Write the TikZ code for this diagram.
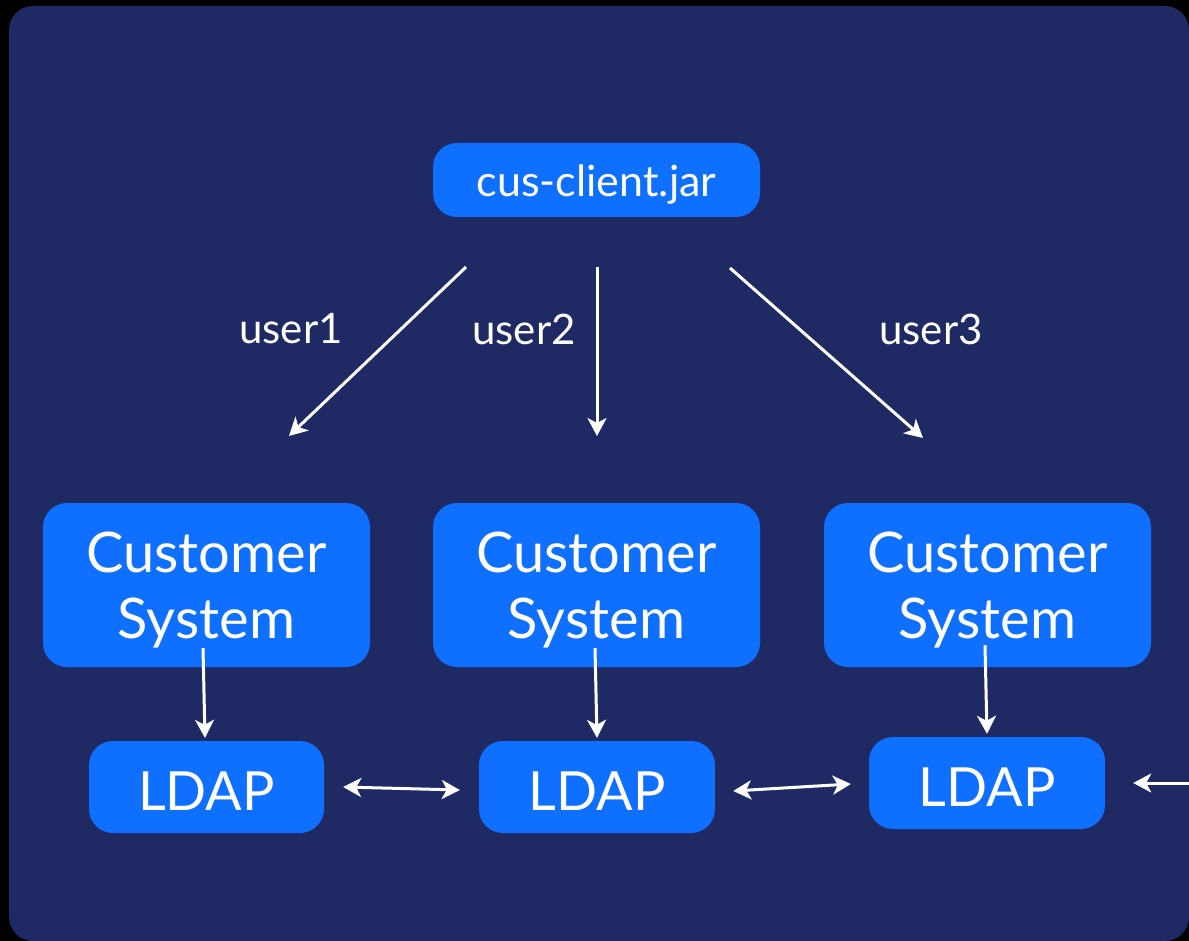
\documentclass[tikz,border=0pt]{standalone}
\usepackage{fontspec}
\setmainfont{Lato}
\usetikzlibrary{arrows.meta}
\definecolor{navy}{HTML}{1F2A64}
\definecolor{boxblue}{HTML}{0F6FFF}
\tikzset{
  box/.style={fill=boxblue, rounded corners=24pt, text=white, align=center, inner sep=0pt},
  cstxt/.style={font=\fontsize{56}{66}\selectfont, text height=106pt, text depth=0pt},
  ldtxt/.style={font=\fontsize{54}{66}\selectfont, text height=46pt, text depth=0pt},
  jartxt/.style={font=\fontsize{43}{50}\selectfont, text height=34pt, text depth=0pt},
  lbl/.style={text=white, font=\fontsize{42}{50}\selectfont},
  arr/.style={draw=white, line width=3pt, -{Stealth[length=18pt,width=19pt,inset=5pt]}},
  darr/.style={draw=white, line width=3pt, {Stealth[length=18pt,width=19pt,inset=5pt]}-{Stealth[length=18pt,width=19pt,inset=5pt]}}
}
\begin{document}
\begin{tikzpicture}[x=1pt,y=-1pt]
\useasboundingbox (0,0) rectangle (1189,941);
\fill[black] (0,0) rectangle (1189,941);
\fill[navy, rounded corners=24pt] (9,6) rectangle (1189,941);

\node[box, jartxt, minimum width=327pt, minimum height=74pt] (jar) at (596.5,180) {cus-client.jar};

\node[box, cstxt, minimum width=327pt, minimum height=164pt] (cs1) at (206.5,585) {Customer\\System};
\node[box, cstxt, minimum width=327pt, minimum height=164pt] (cs2) at (596.5,585) {Customer\\System};
\node[box, cstxt, minimum width=327pt, minimum height=164pt] (cs3) at (987.5,585) {Customer\\System};

\node[box, ldtxt, minimum width=235pt, minimum height=92pt] (ld1) at (206.5,787) {LDAP};
\node[box, ldtxt, minimum width=236pt, minimum height=92pt] (ld2) at (597,787) {LDAP};
\node[box, ldtxt, minimum width=236pt, minimum height=92pt] (ld3) at (987,783) {LDAP};

\node[lbl] (u1) at (291,329) {user1};
\node[lbl] (u2) at (524,329) {user2};
\node[lbl] (u3) at (931,329) {user3};

\coordinate (s1) at (466,267);
\coordinate (e1) at (289,436);
\coordinate (s2) at (597,267);
\coordinate (e2) at (597,436);
\coordinate (s3) at (730,268);
\coordinate (e3) at (923,438);
\coordinate (rin) at (1195,783);

\draw[arr] (s1) -- (e1);
\draw[arr] (s2) -- (e2);
\draw[arr] (s3) -- (e3);

\draw[arr] ([xshift=-3.5pt,yshift=19pt]cs1.south) -- ([xshift=-1.5pt,yshift=3pt]ld1.north);
\draw[arr] ([xshift=-1.5pt,yshift=19pt]cs2.south) -- ([yshift=3pt]ld2.north);
\draw[arr] ([xshift=-2.5pt,yshift=22pt]cs3.south) -- ([yshift=3pt]ld3.north);

\draw[darr] ([xshift=19pt]ld1.east) -- ([xshift=-19pt,yshift=-3pt]ld2.west);
\draw[darr] ([xshift=18pt,yshift=-4pt]ld2.east) -- ([xshift=-18pt,yshift=-1pt]ld3.west);
\draw[arr] (rin) -- ([xshift=28pt]ld3.east);
\end{tikzpicture}
\end{document}
